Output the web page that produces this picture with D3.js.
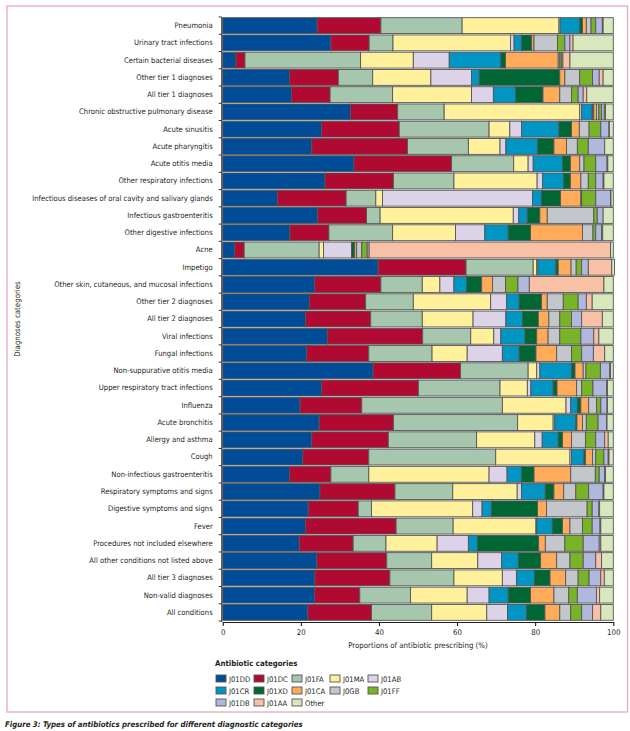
<!DOCTYPE html>
<html>
<head>
<meta charset="utf-8">
<script src="https://cdn.jsdelivr.net/npm/d3@7"></script>
<style>
  body { margin: 0; background: #fff; }
  svg text { font-family: "DejaVu Sans Condensed", "Liberation Sans Narrow", sans-serif; fill: #231f20; }
</style>
</head>
<body>
<svg id="chart"></svg>
<script>
// diagnoses, top to bottom
var diagnoses = ["Pneumonia","Urinary tract infections","Certain bacterial diseases","Other tier 1 diagnoses","All tier 1 diagnoses",
  "Chronic obstructive pulmonary disease","Acute sinusitis","Acute pharyngitis","Acute otitis media","Other respiratory infections",
  "Infectious diseases of oral cavity and salivary glands","Infectious gastroenteritis","Other digestive infections","Acne","Impetigo",
  "Other skin, cutaneous, and mucosal infections","Other tier 2 diagnoses","All tier 2 diagnoses","Viral infections","Fungal infections",
  "Non-suppurative otitis media","Upper respiratory tract infections","Influenza","Acute bronchitis","Allergy and asthma","Cough",
  "Non-infectious gastroenteritis","Respiratory symptoms and signs","Digestive symptoms and signs","Fever","Procedures not included elsewhere",
  "All other conditions not listed above","All tier 3 diagnoses","Non-valid diagnoses","All conditions"];

var antibiotics = ["J01DD","J01DC","J01FA","J01MA","J01AB","J01CR","J01XD","J01CA","J0GB","J01FF","J01DB","J01AA","Other"];
var colours = ["#004c97","#b10a32","#a6c7ae","#fff09c","#ddd3e8","#0095c3","#006634","#ffab5a","#c3c7cc","#78b328","#b1b8de","#f8c1a6","#d9e7bd"];

// % share per antibiotic category, one array per category (same order as diagnoses)
var J01DD = [24.2,27.7,3.4,17.1,17.6,32.7,25.3,22.8,33.6,26.2,14.0,24.3,17.2,3.1,39.8,23.5,22.2,21.2,26.8,21.5,38.5,25.3,19.8,24.7,22.8,20.5,17.1,24.9,21.9,21.2,19.6,24.1,23.6,23.5,21.8];
var J01DC = [16.3,9.8,2.3,12.5,9.9,12.1,19.9,24.5,25.0,17.5,17.6,12.5,10.0,2.4,22.5,17.0,14.4,16.7,24.4,15.9,22.4,24.8,15.8,19.0,19.6,16.9,10.6,19.2,12.8,23.2,13.8,17.9,19.2,11.6,16.3];
var J01FA = [20.8,6.1,29.6,8.8,16.0,11.9,23.0,15.6,15.9,15.5,7.6,3.5,16.3,19.2,17.2,10.6,12.2,13.2,12.3,16.2,17.3,20.9,36.0,31.8,22.6,32.5,9.7,14.8,3.4,14.6,8.4,11.5,16.4,13.0,15.4];
var J01MA = [24.8,30.1,13.5,14.9,20.2,34.7,5.3,8.1,3.7,21.3,1.7,34.1,16.1,1.1,0.9,4.5,19.8,13.0,5.9,9.0,2.2,7.0,16.3,9.1,14.9,19.0,30.8,16.5,25.9,21.2,13.1,11.8,12.4,14.5,14.1];
var J01AB = [0.3,0.9,9.2,10.4,5.6,0.5,3.0,1.5,1.3,1.4,38.4,1.4,7.5,7.2,0.3,3.6,4.1,8.4,1.8,9.0,0.8,0.9,1.2,0.4,1.9,0.4,4.6,1.1,2.4,0.2,8.0,6.1,3.6,5.6,5.3];
var J01CR = [5.0,1.9,13.2,2.0,5.7,2.7,9.6,8.1,7.5,5.4,2.3,2.2,6.0,0,4.6,3.2,3.2,4.3,6.2,4.3,8.1,5.7,1.7,5.4,4.1,3.2,3.7,6.1,2.4,4.0,2.3,4.3,4.6,4.9,4.9];
var J01XD = [0.7,2.6,1.2,20.6,7.0,0.4,3.2,4.2,2.0,1.7,4.9,3.2,5.7,0.8,0.6,3.9,5.7,4.0,3.0,4.3,0.9,1.0,0.9,0.3,1.1,0.4,3.2,2.2,11.8,2.6,15.7,5.7,4.0,5.7,4.7];
var J01CA = [1.0,0.6,13.5,1.3,4.3,0.7,2.0,3.2,2.4,2.7,5.2,1.9,13.3,0.5,3.3,2.8,1.5,2.7,2.9,5.3,2.1,5.0,2.0,1.4,2.3,1.8,9.4,2.5,2.3,1.9,1.7,4.1,4.0,6.0,3.8];
var J0GB  = [1.2,6.0,0.4,3.8,3.0,0.6,2.5,2.8,1.1,1.9,0.2,11.9,2.7,1.3,1.3,3.3,4.1,2.8,3.0,3.8,0.7,1.3,2.0,1.0,3.6,0.8,6.3,3.1,10.4,3.2,5.0,3.4,3.2,3.8,2.8];
var J01FF = [1.2,1.9,0.4,3.3,1.7,0.7,3.0,2.8,3.0,1.9,3.6,0.9,0.7,1.4,1.4,3.2,3.8,3.0,5.4,2.6,3.7,2.9,1.1,3.0,2.6,2.1,1.0,3.3,1.3,2.5,4.7,3.4,2.8,2.2,2.8];
var J01DB = [1.7,1.3,0.4,1.7,1.3,0.7,2.1,4.2,2.9,1.9,3.8,1.5,1.5,0.5,1.7,2.9,2.1,2.6,3.3,3.0,2.4,3.5,1.6,2.2,2.3,1.1,1.4,3.7,1.7,2.0,4.1,3.2,3.0,4.9,2.8];
var J01AA = [0.2,0.8,1.8,1.0,0.9,0.3,0.1,0,0.2,0.2,0.1,0,0.3,61.8,6.0,19.1,1.5,5.3,1.3,2.9,0.2,0.2,0.1,0.1,0.9,0.2,0.2,0.2,0.2,0.2,0.4,1.5,0.9,0.8,2.1];
var Other = [2.6,10.3,11.1,2.6,6.8,2.0,1.0,2.2,1.4,2.4,0.6,2.6,2.7,0.7,0.7,2.4,5.4,2.8,3.7,2.2,0.7,1.5,1.5,1.6,1.3,1.1,2.0,2.4,3.5,3.2,3.2,3.0,2.3,3.5,3.2];

var xTicks = [0,20,40,60,80,100];

var W = 630, H = 731;
var svg = d3.select("#chart").attr("width", W).attr("height", H);

var series = [J01DD,J01DC,J01FA,J01MA,J01AB,J01CR,J01XD,J01CA,J0GB,J01FF,J01DB,J01AA,Other];
var rows = diagnoses.map(function(d, i){
  var r = {diagnosis: d};
  antibiotics.forEach(function(k, j){ r[k] = series[j][i]; });
  return r;
});

var colour = d3.scaleOrdinal().domain(antibiotics).range(colours);

var x = d3.scaleLinear().domain([0,100]).range([222.7, 613.3]);
var y = d3.scaleBand().domain(diagnoses).range([17, 621]).paddingInner(0.08).paddingOuter(0.04);

// frame
svg.append("rect").attr("x", 7).attr("y", 6).attr("width", 620.5).attr("height", 706)
  .attr("fill", "none").attr("stroke", "#e8a9bb").attr("stroke-width", 1.3);

var stacked = d3.stack().keys(antibiotics)(rows);

svg.append("g").selectAll("g")
  .data(stacked)
  .join("g").attr("fill", function(d){ return colour(d.key); })
  .selectAll("rect")
  .data(function(d){ return d; })
  .join("rect")
    .attr("x", function(d){ return x(d[0]); })
    .attr("y", function(d){ return y(d.data.diagnosis); })
    .attr("width", function(d){ return Math.max(0, x(d[1]) - x(d[0])); })
    .attr("height", y.bandwidth())
    .attr("stroke", "#555").attr("stroke-width", 0.9);

// y axis: labels, then bracket style ticks between rows
var yAxis = svg.append("g").attr("transform", "translate(" + x(0) + ",0)")
  .call(d3.axisLeft(y).tickSize(0).tickPadding(10));
yAxis.select(".domain").remove();
yAxis.selectAll("text").style("font-size", "7.6px");

var half = (y.step() - y.bandwidth()) / 2;
var bounds = diagnoses.map(function(d){ return y(d) - half; });
bounds.push(y(diagnoses[diagnoses.length-1]) + y.bandwidth() + half);
svg.append("line").attr("x1", x(0) - 1).attr("x2", x(0) - 1)
  .attr("y1", bounds[0]).attr("y2", bounds[bounds.length-1] + 1)
  .attr("stroke", "#231f20").attr("stroke-width", 0.9);
svg.append("g").selectAll("line").data(bounds).join("line")
  .attr("x1", x(0) - 4).attr("x2", x(0) - 1)
  .attr("y1", function(d){ return d; }).attr("y2", function(d){ return d; })
  .attr("stroke", "#231f20").attr("stroke-width", 0.9);

// x axis
var xAxis = svg.append("g").attr("transform", "translate(0,622)")
  .call(d3.axisBottom(x).tickValues(xTicks).tickSize(4).tickPadding(3).tickSizeOuter(0));
xAxis.select(".domain").attr("stroke", "#231f20");
xAxis.selectAll("text").style("font-size", "7.8px");

svg.append("text").attr("x", 418).attr("y", 648).attr("text-anchor", "middle")
  .style("font-size", "7.8px").text("Proportions of antibiotic prescribing (%)");

svg.append("text").attr("transform", "translate(20," + ((17 + 621) / 2) + ") rotate(-90)")
  .attr("text-anchor", "middle").style("font-size", "7.8px").text("Diagnoses categories");

// legend
svg.append("text").attr("x", 215).attr("y", 666).style("font-size", "7.8px").style("font-weight", "bold")
  .text("Antibiotic categories");
var leg = svg.append("g").selectAll("g").data(antibiotics).join("g")
  .attr("transform", function(d, i){ return "translate(" + (216 + (i % 5) * 38) + "," + (675 + Math.floor(i / 5) * 12) + ")"; });
leg.append("rect").attr("width", 10).attr("height", 7)
  .attr("fill", function(d){ return colour(d); }).attr("stroke", "#555").attr("stroke-width", 0.9);
leg.append("text").attr("x", 13).attr("y", 6.8).style("font-size", "7.6px").text(function(d){ return d; });

// caption
var cap = svg.append("text").attr("x", 5).attr("y", 727).style("font-size", "7.8px").style("font-style", "italic");
cap.append("tspan").style("font-weight", "bold").text("Figure 3: ");
cap.append("tspan").style("font-weight", "bold").text("Types of antibiotics prescribed for different diagnostic categories");
</script>
</body>
</html>
